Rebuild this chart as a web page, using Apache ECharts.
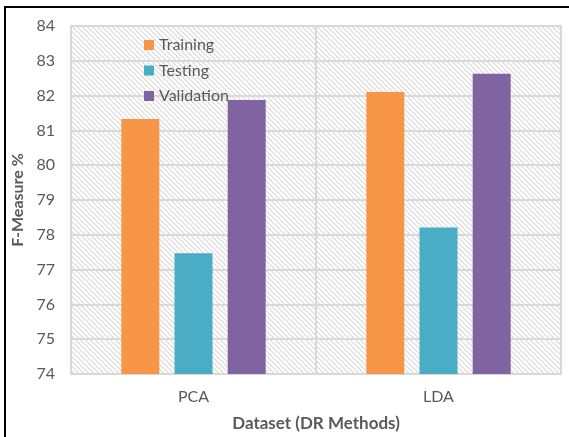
<!DOCTYPE html>
<html>
<head>
<meta charset="utf-8">
<script src="https://cdn.jsdelivr.net/npm/echarts@6/dist/echarts.min.js"></script>
<style>
html,body{margin:0;padding:0;background:#fff;}
#chart{width:569px;height:437px;}
</style>
</head>
<body>
<div id="chart"></div>
<script>
const categories = ['PCA', 'LDA'];
const training = [81.33, 82.10];
const testing = [77.47, 78.21];
const validation = [81.87, 82.63];
const seriesNames = ['Training', 'Testing', 'Validation'];
const yTicks = { min: 74, max: 84, interval: 1 };

function makeHatch() {
  const n = 5;
  const c = document.createElement('canvas');
  c.width = n; c.height = n;
  const ctx = c.getContext('2d');
  ctx.fillStyle = '#ffffff';
  ctx.fillRect(0, 0, n, n);
  ctx.fillStyle = '#e2e2e2';
  for (let y = 0; y < n; y++) {
    ctx.fillRect(y % n, y, 1, 1);
    ctx.fillRect((y + 1) % n, y, 1, 1);
  }
  return c;
}

const chart = echarts.init(document.getElementById('chart'), null, { renderer: 'canvas' });
const font = 'Lato, "Open Sans", sans-serif';
const colors = ['#F79646', '#4BACC6', '#8064A2'];

chart.setOption({
  animation: false,
  backgroundColor: '#ffffff',
  textStyle: { fontFamily: font },
  graphic: [{
    type: 'rect',
    shape: { x: 5, y: 7, width: 620, height: 500 },
    style: { fill: 'none', stroke: '#000000', lineWidth: 2 },
    z: 100
  }],
  grid: {
    left: 71, right: 8, top: 26, height: 350,
    show: true,
    borderColor: '#d9d9d9',
    borderWidth: 2,
    backgroundColor: { image: makeHatch(), repeat: 'repeat' }
  },
  legend: {
    orient: 'vertical',
    left: 139, top: 32,
    itemWidth: 10, itemHeight: 10,
    itemGap: 9.5,
    icon: 'rect',
    textStyle: { fontFamily: font, fontSize: 16, color: '#595959', lineHeight: 16, padding: [0, 0, 0, 0] },
    data: seriesNames
  },
  xAxis: {
    type: 'category',
    data: categories,
    axisLine: { show: true, lineStyle: { color: '#d9d9d9', width: 2 } },
    axisTick: { show: false },
    splitLine: { show: true, lineStyle: { color: '#d9d9d9', width: 2 } },
    axisLabel: { fontFamily: font, fontSize: 16, color: '#595959', margin: 15 },
    name: 'Dataset (DR Methods)',
    nameLocation: 'middle',
    nameGap: 41,
    nameTextStyle: { fontFamily: font, fontSize: 17, fontWeight: 'bold', color: '#595959' }
  },
  yAxis: {
    type: 'value',
    min: yTicks.min, max: yTicks.max, interval: yTicks.interval,
    axisLine: { show: false },
    axisTick: { show: false },
    splitLine: { show: true, lineStyle: { color: '#d9d9d9', width: 2 } },
    axisLabel: { fontFamily: font, fontSize: 16, color: '#595959', margin: 16 },
    name: 'F-Measure %',
    nameLocation: 'middle',
    nameGap: 40,
    nameTextStyle: { fontFamily: font, fontSize: 16, fontWeight: 'bold', color: '#595959' }
  },
  series: [
    { name: seriesNames[0], type: 'bar', data: training, barWidth: 38, barGap: '40%', itemStyle: { color: colors[0] } },
    { name: seriesNames[1], type: 'bar', data: testing, barWidth: 38, barGap: '40%', itemStyle: { color: colors[1] } },
    { name: seriesNames[2], type: 'bar', data: validation, barWidth: 38, barGap: '40%', itemStyle: { color: colors[2] } }
  ]
});
</script>
</body>
</html>
